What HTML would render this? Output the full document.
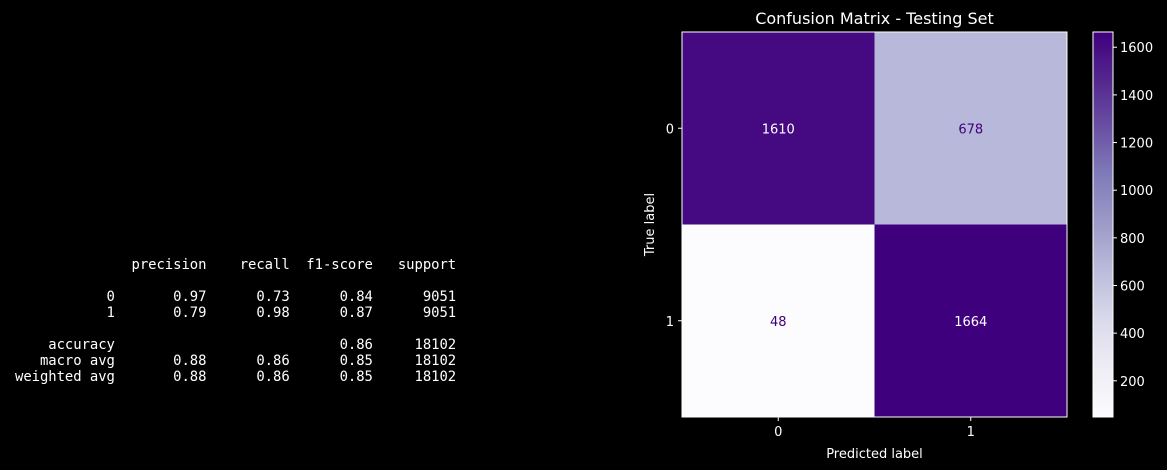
<!DOCTYPE html>
<html><head><meta charset="utf-8"><style>
html,body{margin:0;padding:0;background:#000;width:1167px;height:470px;overflow:hidden}
pre{position:absolute;left:15px;top:257px;margin:0;color:#fff;font-family:"DejaVu Sans Mono","Liberation Mono",monospace;font-size:13.9px;letter-spacing:-0.04px;line-height:16px}
svg{position:absolute;left:0;top:0}
text{font-family:"DejaVu Sans","Liberation Sans",sans-serif}
</style></head><body>
<pre>              precision    recall  f1-score   support

           0       0.97      0.73      0.84      9051
           1       0.79      0.98      0.87      9051

    accuracy                           0.86     18102
   macro avg       0.88      0.86      0.85     18102
weighted avg       0.88      0.86      0.85     18102</pre>
<svg id="chart" width="1167" height="470"></svg>
<script>
const classLabels = ["0","1"];
const matrixValues = [[1610,678],[48,1664]];
const colorbarTicks = [200,400,600,800,1000,1200,1400,1600];
const vmin = 48, vmax = 1664;

const NS="http://www.w3.org/2000/svg";
const svg=document.getElementById('chart');
function mk(tag,attrs,parent){const e=document.createElementNS(NS,tag);for(const k in attrs)e.setAttribute(k,attrs[k]);(parent||svg).appendChild(e);return e;}
const stops=["#fcfbfd","#efedf5","#dadaeb","#bcbddc","#9e9ac8","#807dba","#6a51a3","#54278f","#3f007d"];
function hex(h){return [1,3,5].map(i=>parseInt(h.substr(i,2),16));}
function cmap(t){t=Math.max(0,Math.min(1,t));const p=t*(stops.length-1);const i=Math.min(Math.floor(p),stops.length-2);const f=p-i;const a=hex(stops[i]),b=hex(stops[i+1]);return "rgb("+a.map((v,k)=>Math.round(v+(b[k]-v)*f)).join(",")+")";}
const ax={x0:682,y0:32,w:385,h:385};
const n=classLabels.length, cw=ax.w/n, ch=ax.h/n;
const xPos=i=>ax.x0+cw*(i+0.5), yPos=i=>ax.y0+ch*(i+0.5);
for(let r=0;r<n;r++)for(let c=0;c<n;c++){
  const v=matrixValues[r][c], t=(v-vmin)/(vmax-vmin);
  const cell=mk('rect',{x:ax.x0+c*cw,y:ax.y0+r*ch,width:cw,height:ch,fill:cmap(t)});
  
  
  const tx=mk('text',{x:xPos(c),y:yPos(r)+5,'text-anchor':'middle','font-size':13,fill:t>0.5?'#fff':'#3f007d'});
  tx.textContent=v;
  
  
}
const fr=mk('rect',{x:ax.x0,y:ax.y0,width:ax.w,height:ax.h,fill:'none',stroke:'#fff','stroke-width':1});

classLabels.forEach((l,i)=>{
  mk('line',{x1:xPos(i),x2:xPos(i),y1:ax.y0+ax.h,y2:ax.y0+ax.h+4,stroke:'#fff'});
  const xt=mk('text',{x:xPos(i),y:ax.y0+ax.h+19,'text-anchor':'middle','font-size':13,fill:'#fff'});xt.textContent=l;
  
  mk('line',{x1:ax.x0-4,x2:ax.x0,y1:yPos(i),y2:yPos(i),stroke:'#fff'});
  const yt=mk('text',{x:ax.x0-8,y:yPos(i)+5,'text-anchor':'end','font-size':13,fill:'#fff'});yt.textContent=l;
  
});
const title=mk('text',{x:ax.x0+ax.w/2,y:24,'text-anchor':'middle','font-size':16,fill:'#fff'});title.textContent="Confusion Matrix - Testing Set";

const xl=mk('text',{x:ax.x0+ax.w/2,y:458,'text-anchor':'middle','font-size':13,fill:'#fff'});xl.textContent="Predicted label";

const yl=mk('text',{x:654,y:ax.y0+ax.h/2,'text-anchor':'middle','font-size':13,fill:'#fff',transform:'rotate(-90 654 '+(ax.y0+ax.h/2)+')'});yl.textContent="True label";

const cb={x:1093,y:32,w:20,h:385};
const defs=mk('defs',{});const g=mk('linearGradient',{id:'pg',x1:0,y1:1,x2:0,y2:0},defs);
stops.forEach((s,i)=>mk('stop',{offset:i/(stops.length-1),'stop-color':s},g));
const cbr=mk('rect',{x:cb.x,y:cb.y,width:cb.w,height:cb.h,fill:'url(#pg)',stroke:'#fff','stroke-width':1});

const cy=v=>cb.y+cb.h*(1-(v-vmin)/(vmax-vmin));
colorbarTicks.forEach(v=>{
  mk('line',{x1:cb.x+cb.w,x2:cb.x+cb.w+4,y1:cy(v),y2:cy(v),stroke:'#fff'});
  const t=mk('text',{x:cb.x+cb.w+7,y:cy(v)+5,'font-size':13,fill:'#fff'});t.textContent=v;
  
});
</script>
</body></html>
